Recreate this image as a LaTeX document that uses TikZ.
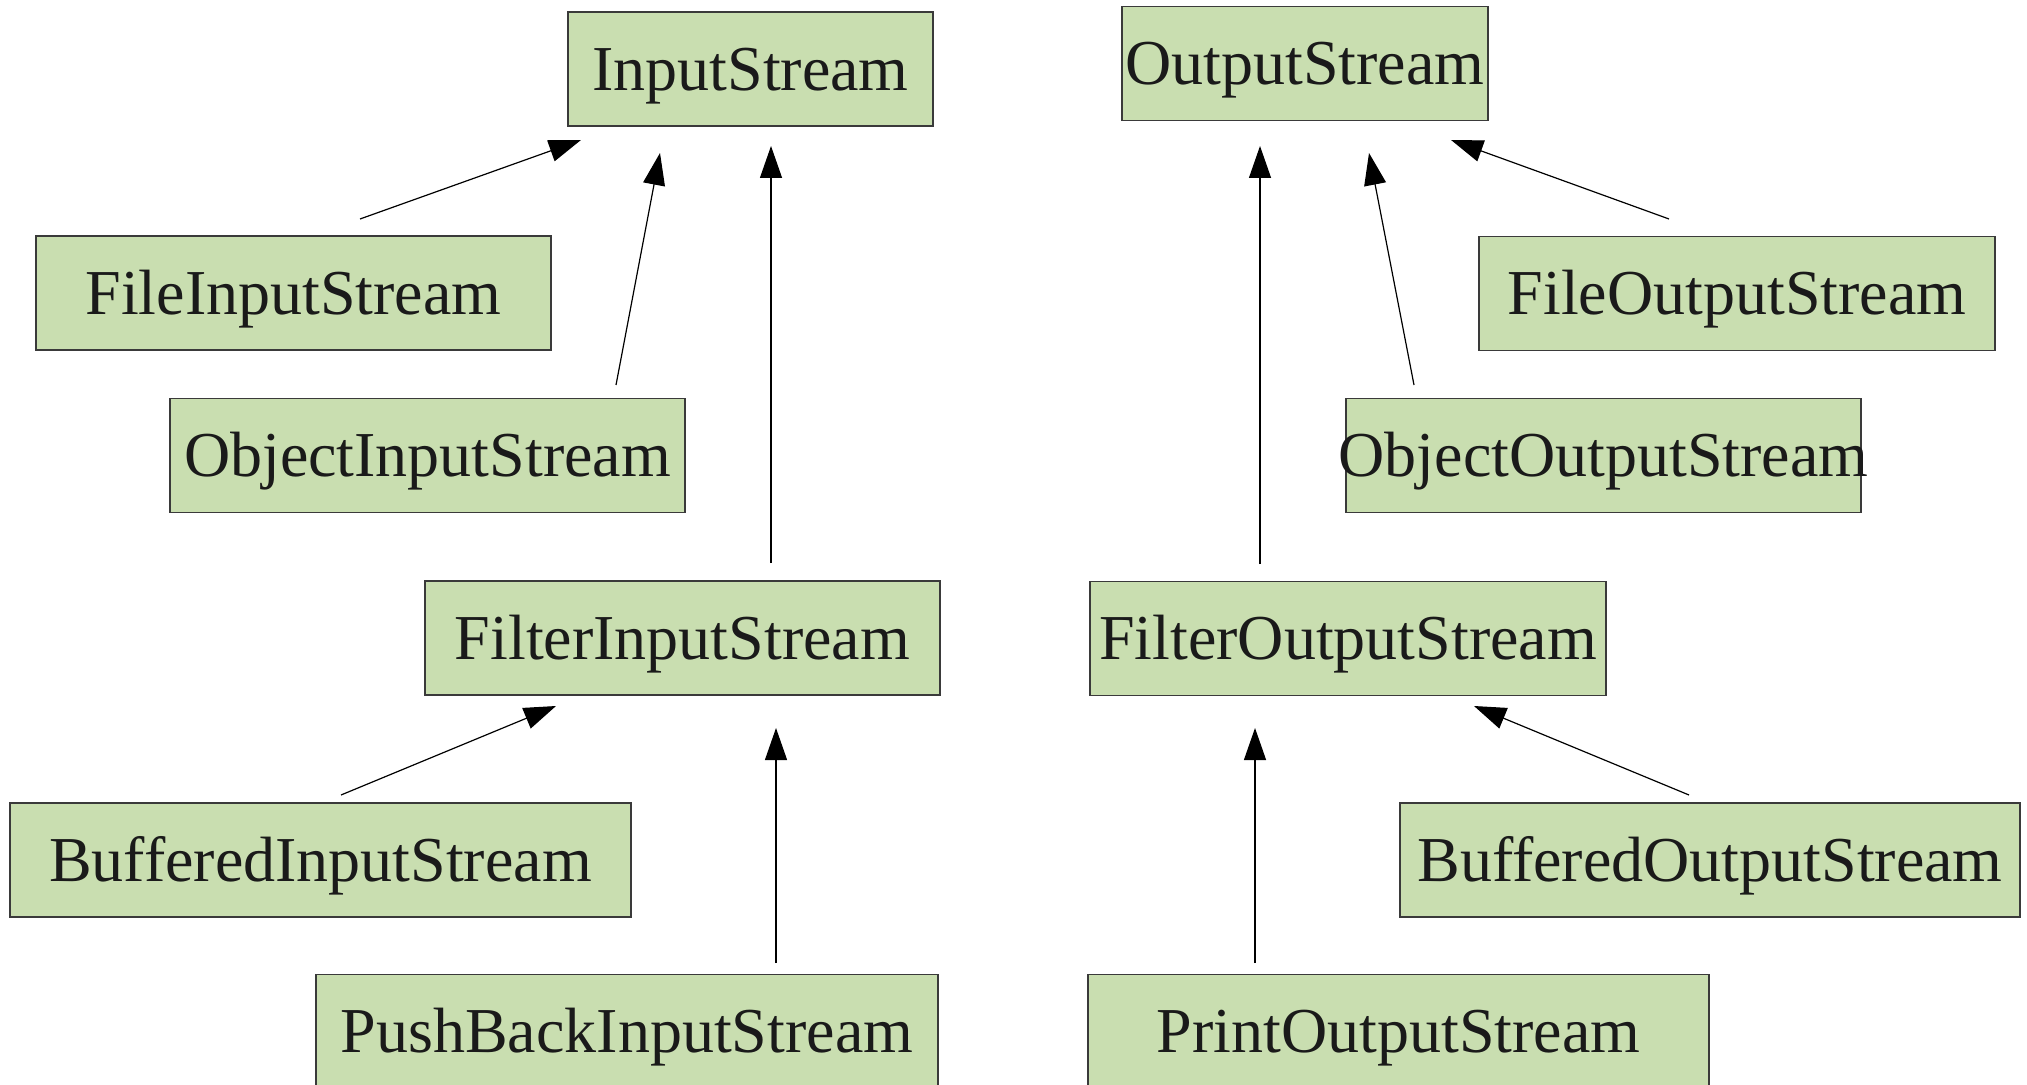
\documentclass[tikz,border=0pt]{standalone}
\usepackage{fontspec}
\setmainfont{Liberation Serif}
\usetikzlibrary{arrows.meta}
\definecolor{boxfill}{HTML}{C9DEB0}
\definecolor{boxline}{HTML}{3A3A3A}
\definecolor{txt}{HTML}{1A1A1A}
\tikzset{
  cls/.style={draw=boxline, line width=0.7pt, fill=boxfill, text=txt, inner sep=0pt,
    text height=21.2pt, text depth=0pt, minimum height=57pt,
    font=\fontsize{32pt}{36pt}\selectfont},
  inh/.style={line width=0.6pt, draw=black, -{Triangle[length=16pt,width=11pt]}}
}
\begin{document}
\begin{tikzpicture}[x=0.5pt,y=-0.5pt]
\useasboundingbox (0,0) rectangle (2027,1085);
\begin{scope}
\clip (0,0) rectangle (2027,1085);
% nodes
\node[cls, minimum width=182.5pt] (is) at (750.5,69) {\makebox[0pt]{InputStream}};
\node[cls, minimum width=183pt] (os) at (1305,63.75) {\makebox[0pt]{OutputStream}};
\node[cls, minimum width=257.5pt] (fis) at (293.5,293) {\makebox[0pt]{FileInputStream}};
\node[cls, minimum width=258pt] (fos) at (1737,293.5) {\makebox[0pt]{FileOutputStream}};
\node[cls, minimum width=257.5pt] (ois) at (427.5,455.5) {\makebox[0pt]{ObjectInputStream}};
\node[cls, minimum width=257.5pt] (oos) at (1603.5,455.5) {\makebox[0pt]{ObjectOutputStream}};
\node[cls, minimum width=257.5pt] (filis) at (682.5,638) {\makebox[0pt]{FilterInputStream}};
\node[cls, minimum width=258pt] (filos) at (1348,638.5) {\makebox[0pt]{FilterOutputStream}};
\node[cls, minimum width=310.5pt] (bis) at (320.5,860) {\makebox[0pt]{BufferedInputStream}};
\node[cls, minimum width=310pt] (bos) at (1710,860) {\makebox[0pt]{BufferedOutputStream}};
\node[cls, minimum width=311pt] (pbis) at (627,1031.5) {\makebox[0pt]{PushBackInputStream}};
\node[cls, minimum width=310.5pt] (pos) at (1398.5,1031.5) {\makebox[0pt]{PrintOutputStream}};
\end{scope}
% connector end points
\coordinate (a1s) at (360,219);  \coordinate (a1e) at (581,140);
\coordinate (a2s) at (616,385);  \coordinate (a2e) at (660,153);
\coordinate (a3s) at (771,563);  \coordinate (a3e) at (771,146);
\coordinate (a4s) at (341,795);  \coordinate (a4e) at (556,706);
\coordinate (a5s) at (776,963);  \coordinate (a5e) at (776,728);
\coordinate (b1s) at (1669,219); \coordinate (b1e) at (1451,140);
\coordinate (b2s) at (1414,385); \coordinate (b2e) at (1369,153);
\coordinate (b3s) at (1260,564); \coordinate (b3e) at (1260,146);
\coordinate (b4s) at (1689,795); \coordinate (b4e) at (1474,706);
\coordinate (b5s) at (1255,963); \coordinate (b5e) at (1255,728);
% connectors
\draw[inh] (a1s) -- (a1e);
\draw[inh] (a2s) -- (a2e);
\draw[inh] (a3s) -- (a3e);
\draw[inh] (a4s) -- (a4e);
\draw[inh] (a5s) -- (a5e);
\draw[inh] (b1s) -- (b1e);
\draw[inh] (b2s) -- (b2e);
\draw[inh] (b3s) -- (b3e);
\draw[inh] (b4s) -- (b4e);
\draw[inh] (b5s) -- (b5e);
\end{tikzpicture}
\end{document}
